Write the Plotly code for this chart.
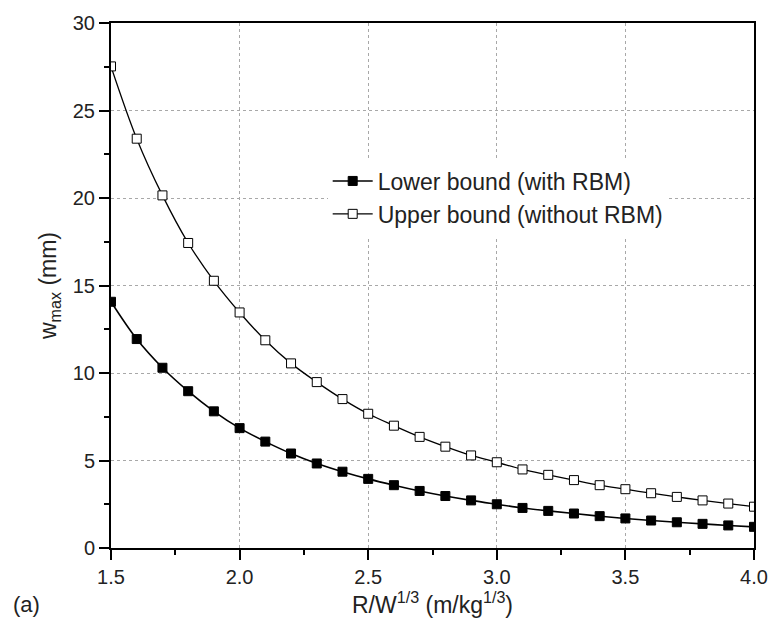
import plotly.graph_objects as go

x_vals = [1.5, 1.6, 1.7, 1.8, 1.9, 2.0, 2.1, 2.2, 2.3, 2.4, 2.5, 2.6, 2.7,
          2.8, 2.9, 3.0, 3.1, 3.2, 3.3, 3.4, 3.5, 3.6, 3.7, 3.8, 3.9, 4.0]
lower_bound = [14.07, 11.94, 10.30, 8.96, 7.81, 6.85, 6.08, 5.40, 4.83, 4.36,
               3.95, 3.59, 3.26, 2.97, 2.72, 2.50, 2.29, 2.12, 1.97, 1.82,
               1.69, 1.57, 1.47, 1.38, 1.29, 1.21]
upper_bound = [27.52, 23.39, 20.15, 17.43, 15.27, 13.46, 11.87, 10.55, 9.48, 8.51,
               7.67, 6.99, 6.35, 5.79, 5.29, 4.90, 4.49, 4.18, 3.88, 3.59,
               3.36, 3.13, 2.92, 2.72, 2.54, 2.36]
series_names = ["Lower bound (with RBM)", "Upper bound (without RBM)"]
x_ticks = [1.5, 2.0, 2.5, 3.0, 3.5, 4.0]
y_ticks = [0, 5, 10, 15, 20, 25, 30]

FONT = "Liberation Sans, Arial, sans-serif"
TXT = "#222222"

fig = go.Figure()
fig.add_trace(go.Scatter(
    x=x_vals, y=lower_bound, name=series_names[0], mode="lines+markers",
    line=dict(color="black", width=1.6, shape="spline"),
    marker=dict(symbol="square", size=9, color="black",
                line=dict(color="black", width=1)),
))
fig.add_trace(go.Scatter(
    x=x_vals, y=upper_bound, name=series_names[1], mode="lines+markers",
    line=dict(color="black", width=1.3, shape="spline"),
    marker=dict(symbol="square", size=9, color="white",
                line=dict(color="black", width=1)),
))

axis_common = dict(
    showline=True, linecolor="black", linewidth=2, mirror=True,
    ticks="outside", ticklen=10, tickwidth=1.5, tickcolor="black",
    showgrid=True, gridcolor="#a8a8a8", griddash="dot", gridwidth=1,
    zeroline=False,
    tickfont=dict(family=FONT, size=20, color=TXT),
)

fig.update_xaxes(
    range=[1.5, 4.0], tickvals=x_ticks,
    ticktext=[f"{v:.1f}" for v in x_ticks],
    minor=dict(ticks="outside", ticklen=5, tickwidth=1.5, tickcolor="black",
               dtick=0.25, tick0=1.5, showgrid=False),
    title=dict(text="R/W<sup>1/3</sup> (m/kg<sup>1/3</sup>)",
               font=dict(family=FONT, size=23, color=TXT), standoff=6),
    **axis_common,
)
fig.update_yaxes(
    range=[0, 30], tickvals=y_ticks,
    minor=dict(ticks="outside", ticklen=5, tickwidth=1.5, tickcolor="black",
               dtick=2.5, tick0=0, showgrid=False),
    title=dict(text="w<sub>max</sub> (mm)",
               font=dict(family=FONT, size=23, color=TXT), standoff=10),
    **axis_common,
)

fig.add_annotation(
    text="(a)", xref="paper", yref="paper", x=-0.155, y=-0.108,
    xanchor="left", yanchor="middle", showarrow=False,
    font=dict(family=FONT, size=22, color=TXT),
)

fig.update_layout(
    width=780, height=628,
    margin=dict(l=111, r=18, t=19, b=80),
    plot_bgcolor="white", paper_bgcolor="white",
    font=dict(family=FONT, size=20, color=TXT),
    showlegend=True,
    legend=dict(
        x=0.337, y=0.74, xanchor="left", yanchor="top",
        bgcolor="white", borderwidth=0,
        font=dict(family=FONT, size=23, color=TXT),
        itemwidth=40, tracegroupgap=0,
    ),
)

fig.write_html("out.html")
